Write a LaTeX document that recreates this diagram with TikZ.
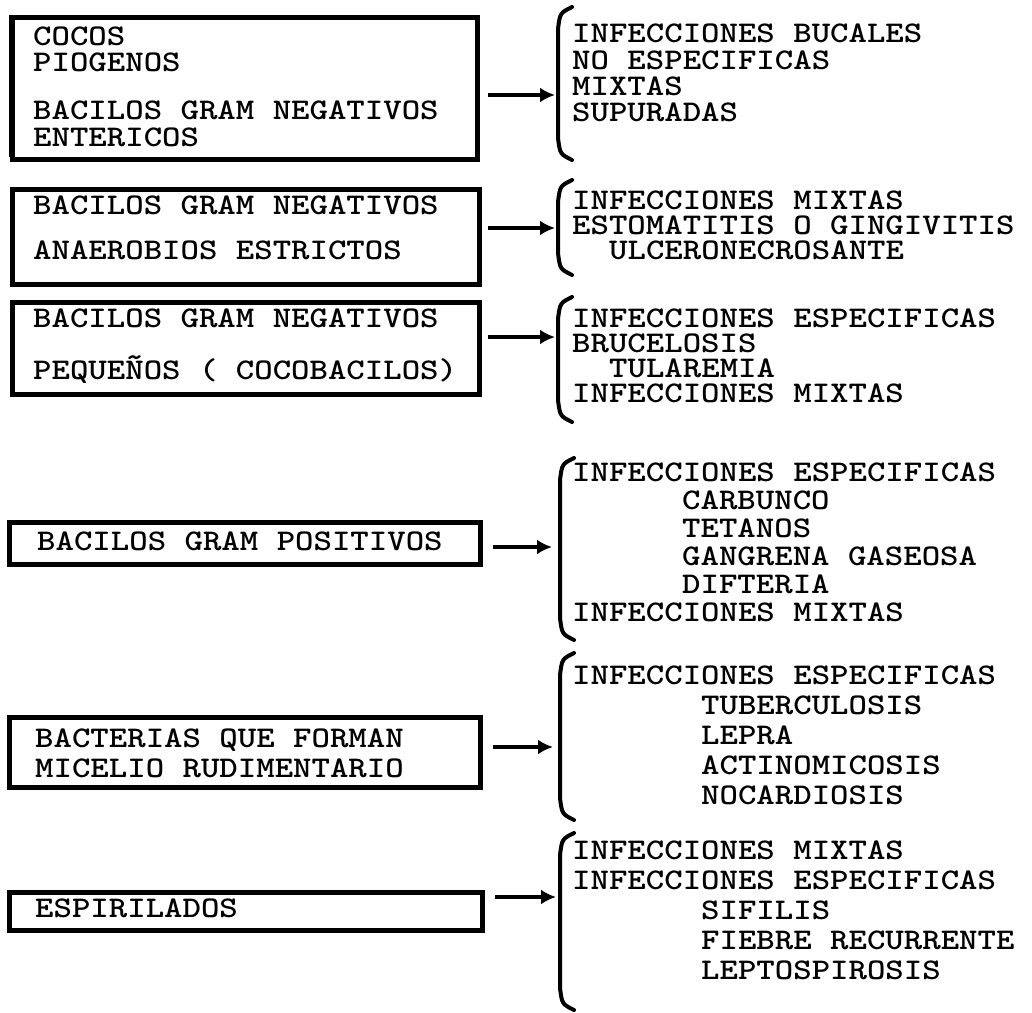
\documentclass[tikz,border=0pt]{standalone}
\usepackage{fontspec}
\newfontfamily\twfont{lmmonolt10-bold.otf}[FakeStretch=1.17]
\usetikzlibrary{arrows.meta,calc}
\tikzset{
  tx/.style={font=\twfont\fontsize{30}{30}\selectfont, anchor=base west, inner sep=0pt},
  bx/.style={draw, line width=4.5pt, inner sep=0pt, anchor=north west},
  arr/.style={line width=4.5pt, -{Latex[length=15pt,width=15pt]}},
  brk/.style={line width=4pt, line cap=round}
}
\newcommand\bracketat[3]{%
  \draw[brk] (#1+14,#2) .. controls (#1+2,#2+6) .. (#1,#2+22) -- (#1,#3-22) .. controls (#1+2,#3-6) .. (#1+14,#3);}
\begin{document}
\begin{tikzpicture}[x=1pt,y=-1pt]
\useasboundingbox[fill=white] (0,0) rectangle (1032,1012);

% ---------- row 1
\node[bx, minimum width=465pt, minimum height=142pt] (B1) at (10,15) {};
\draw[line width=3pt] (10,15) -- (10,157);
\node[tx] (b1a) at (33,45) {COCOS};
\node[tx] (b1b) at (33,71) {PIOGENOS};
\node[tx] (b1c) at (33,119) {BACILOS GRAM NEGATIVOS};
\node[tx] (b1d) at (33,146) {ENTERICOS};
\coordinate (K1) at (555,95);
\draw[arr] ([xshift=8pt]B1.east |- K1) -- (K1);
\bracketat{558}{7}{160}
\node[tx] (r1a) at (572,42) {INFECCIONES BUCALES};
\node[tx] (r1b) at (572,69) {NO ESPECIFICAS};
\node[tx] (r1c) at (572,95) {MIXTAS};
\node[tx] (r1d) at (572,121) {SUPURADAS};

% ---------- row 2
\node[bx, minimum width=467pt, minimum height=95pt] (B2) at (10,187) {};
\node[tx] (b2a) at (33,214) {BACILOS GRAM NEGATIVOS};
\node[tx] (b2b) at (33,259) {ANAEROBIOS ESTRICTOS};
\coordinate (K2) at (555,228);
\draw[arr] ([xshift=6pt]B2.east |- K2) -- (K2);
\bracketat{558}{180}{275}
\node[tx] (r2a) at (572,209) {INFECCIONES MIXTAS};
\node[tx] (r2b) at (572,234) {ESTOMATITIS O GINGIVITIS};
\node[tx] (r2c) at (609,259) {ULCERONECROSANTE};

% ---------- row 3
\node[bx, minimum width=467pt, minimum height=92pt] (B3) at (10,300) {};
\node[tx] (b3a) at (33,327) {BACILOS GRAM NEGATIVOS};
\node[tx] (b3b) at (33,379) {PEQUEÑOS ( COCOBACILOS)};
\coordinate (K3) at (555,337);
\draw[arr] ([xshift=6pt]B3.east |- K3) -- (K3);
\bracketat{558}{297}{422}
\node[tx] (r3a) at (572,327) {INFECCIONES ESPECIFICAS};
\node[tx] (r3b) at (572,352) {BRUCELOSIS};
\node[tx] (r3c) at (609,377) {TULAREMIA};
\node[tx] (r3d) at (572,402) {INFECCIONES MIXTAS};

% ---------- row 4
\node[bx, minimum width=471pt, minimum height=42pt] (B4) at (7,520) {};
\node[tx] (b4a) at (37,550) {BACILOS GRAM POSITIVOS};
\coordinate (K4) at (552,547);
\draw[arr] ([xshift=10pt]B4.east |- K4) -- (K4);
\bracketat{560}{458}{640}
\node[tx] (r4a) at (572,481) {INFECCIONES ESPECIFICAS};
\node[tx] (r4b) at (682,509) {CARBUNCO};
\node[tx] (r4c) at (682,537) {TETANOS};
\node[tx] (r4d) at (682,565) {GANGRENA GASEOSA};
\node[tx] (r4e) at (682,593) {DIFTERIA};
\node[tx] (r4f) at (572,621) {INFECCIONES MIXTAS};

% ---------- row 5
\node[bx, minimum width=471pt, minimum height=70pt] (B5) at (7,715) {};
\node[tx] (b5a) at (35,747) {BACTERIAS QUE FORMAN};
\node[tx] (b5b) at (35,777) {MICELIO RUDIMENTARIO};
\coordinate (K5) at (553,747);
\draw[arr] ([xshift=10pt]B5.east |- K5) -- (K5);
\bracketat{560}{653}{820}
\node[tx] (r5a) at (572,684) {INFECCIONES ESPECIFICAS};
\node[tx] (r5b) at (701,714) {TUBERCULOSIS};
\node[tx] (r5c) at (701,744) {LEPRA};
\node[tx] (r5d) at (701,774) {ACTINOMICOSIS};
\node[tx] (r5e) at (701,804) {NOCARDIOSIS};

% ---------- row 6
\node[bx, minimum width=473pt, minimum height=38pt] (B6) at (7,890) {};
\node[tx] (b6a) at (35,917) {ESPIRILADOS};
\coordinate (K6) at (556,897);
\draw[arr] ([xshift=10pt]B6.east |- K6) -- (K6);
\bracketat{560}{833}{1010}
\node[tx] (r6a) at (572,859) {INFECCIONES MIXTAS};
\node[tx] (r6b) at (572,889) {INFECCIONES ESPECIFICAS};
\node[tx] (r6c) at (701,919) {SIFILIS};
\node[tx] (r6d) at (701,949) {FIEBRE RECURRENTE};
\node[tx] (r6e) at (701,979) {LEPTOSPIROSIS};
\end{tikzpicture}
\end{document}
